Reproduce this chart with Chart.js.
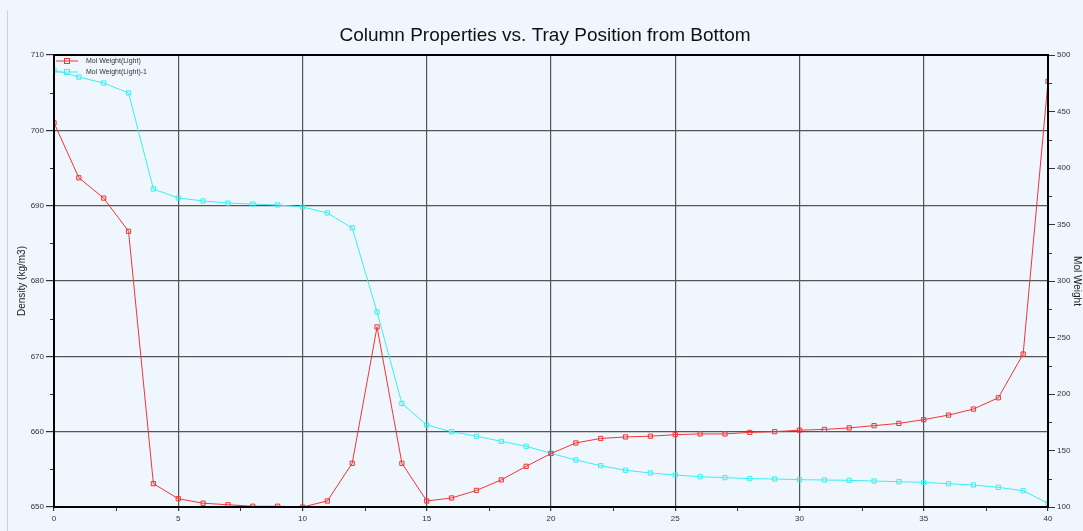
<!DOCTYPE html>
<html>
<head>
<meta charset="utf-8">
<script src="https://cdn.jsdelivr.net/npm/chart.js@4.4.0/dist/chart.umd.min.js"></script>
<style>
  html, body { margin: 0; padding: 0; background: #eff6fd; }
  #wrap { position: relative; width: 1083px; height: 531px; }
  #edge { position: absolute; left: 7px; top: 10px; bottom: 0; width: 1px; background: #c9d3dc; }
</style>
</head>
<body>
<div id="wrap">
  <div id="edge"></div>
  <canvas id="chart" width="1083" height="531"></canvas>
</div>
<script>
// Tray positions from bottom
const trays = [0, 1, 2, 3, 4, 5, 6, 7, 8, 9, 10, 11, 12, 13, 14, 15, 16, 17, 18, 19, 20,
  21, 22, 23, 24, 25, 26, 27, 28, 29, 30, 31, 32, 33, 34, 35, 36, 37, 38, 39, 40];

// Red series (left axis, density kg/m3)
const molWeightLight = [701.0, 693.7, 691.0, 686.6, 653.1, 651.1, 650.5, 650.3, 650.1, 650.1, 650.0,
  650.8, 655.8, 673.9, 655.8, 650.8, 651.2, 652.2, 653.6, 655.4, 657.1,
  658.5, 659.1, 659.3, 659.4, 659.6, 659.7, 659.7, 659.9, 660.0, 660.2,
  660.3, 660.5, 660.8, 661.1, 661.6, 662.2, 663.0, 664.5, 670.3, 706.5];

// Cyan series (right axis, mol weight)
const molWeightLight1 = [486.7, 480.5, 475.2, 466.4, 381.4, 373.5, 370.8, 369.0, 368.1, 367.3, 365.5,
  360.2, 347.0, 272.6, 191.7, 172.6, 166.6, 162.6, 158.1, 153.7, 147.5,
  141.6, 136.6, 132.5, 130.1, 128.3, 126.8, 126.0, 125.1, 124.8, 124.2,
  123.9, 123.6, 123.0, 122.4, 121.8, 120.6, 119.5, 117.4, 114.4, 103.3];

const seriesNames = ["Mol Weight(Light)", "Mol Weight(Light)-1"];
const seriesColors = ["#f23535", "#3ceef5"];
const chartTitle = "Column Properties vs. Tray Position from Bottom";

const fontFamily = "'Liberation Sans', Arial, sans-serif";

function toPoints(values) {
  return trays.map((t, i) => ({ x: t, y: values[i] }));
}

// Draw title, minor ticks, legend and plot frame on top of the chart
const decorations = {
  id: "decorations",
  afterDraw(chart) {
    const ctx = chart.ctx;
    const area = chart.chartArea;
    const { x, y, y1 } = chart.scales;
    ctx.save();

    ctx.fillStyle = "#111";
    ctx.font = "19px " + fontFamily;
    ctx.textAlign = "center";
    ctx.textBaseline = "middle";
    ctx.fillText(chartTitle, 545, 36);

    // minor ticks (short)
    ctx.strokeStyle = "#333";
    ctx.lineWidth = 1;
    ctx.beginPath();
    for (let v = 2.5; v < 40; v += 5) {
      const px = Math.round(x.getPixelForValue(v)) + 0.5;
      ctx.moveTo(px, area.bottom);
      ctx.lineTo(px, area.bottom + 4);
    }
    for (let v = 655; v < 710; v += 10) {
      const py = Math.round(y.getPixelForValue(v)) + 0.5;
      ctx.moveTo(area.left - 4, py);
      ctx.lineTo(area.left, py);
    }
    for (let v = 125; v < 500; v += 50) {
      const py = Math.round(y1.getPixelForValue(v)) + 0.5;
      ctx.moveTo(area.right, py);
      ctx.lineTo(area.right + 4, py);
    }
    ctx.stroke();

    // frame
    ctx.strokeStyle = "#000";
    ctx.lineWidth = 2;
    ctx.strokeRect(area.left, area.top, area.right - area.left, area.bottom - area.top);

    // legend in the upper left corner
    ctx.font = "7px " + fontFamily;
    ctx.textAlign = "left";
    seriesNames.forEach((name, i) => {
      const ly = area.top + 6 + i * 11;
      ctx.strokeStyle = seriesColors[i];
      ctx.lineWidth = 1;
      ctx.beginPath();
      ctx.moveTo(area.left + 2, ly);
      ctx.lineTo(area.left + 24, ly);
      ctx.stroke();
      ctx.strokeRect(area.left + 10.5, ly - 2.5, 5, 5);
      ctx.fillStyle = "#333";
      ctx.fillText(name, area.left + 32, ly);
    });
    ctx.restore();
  }
};

new Chart(document.getElementById("chart"), {
  type: "line",
  data: {
    datasets: [
      {
        label: seriesNames[0],
        data: toPoints(molWeightLight),
        yAxisID: "y",
        borderColor: seriesColors[0],
        backgroundColor: "rgba(242,53,53,0.08)",
        borderWidth: 1,
        pointStyle: "rect",
        pointRadius: 3,
        pointBorderWidth: 1,
        tension: 0
      },
      {
        label: seriesNames[1],
        data: toPoints(molWeightLight1),
        yAxisID: "y1",
        borderColor: seriesColors[1],
        backgroundColor: "rgba(60,238,245,0.08)",
        borderWidth: 1,
        pointStyle: "rect",
        pointRadius: 3,
        pointBorderWidth: 1,
        tension: 0
      }
    ]
  },
  options: {
    responsive: false,
    animation: false,
    layout: { padding: { top: 55, left: 0, right: 0, bottom: 0 } },
    plugins: {
      legend: { display: false },
      title: { display: false },
      tooltip: { enabled: false }
    },
    scales: {
      x: {
        type: "linear",
        min: 0,
        max: 40,
        afterFit(scale) { scale.height = 24; },
        ticks: {
          stepSize: 5,
          maxRotation: 0,
          autoSkip: false,
          padding: 3,
          color: "#333",
          font: { size: 8, family: fontFamily }
        },
        grid: {
          color: "#555",
          lineWidth: 1.2,
          tickColor: "#333",
          tickLength: 4
        },
        border: { display: true, color: "#000", width: 2 }
      },
      y: {
        position: "left",
        min: 650,
        max: 710,
        afterFit(scale) { scale.width = 54; },
        ticks: {
          stepSize: 10,
          autoSkip: false,
          padding: 2,
          color: "#333",
          font: { size: 8, family: fontFamily }
        },
        title: {
          display: true,
          text: "Density (kg/m3)",
          color: "#222",
          padding: { top: 16, bottom: 0 },
          font: { size: 10, family: fontFamily }
        },
        grid: {
          color: "#555",
          lineWidth: 1.2,
          tickColor: "#333",
          tickLength: 8
        },
        border: { display: true, color: "#000", width: 2 }
      },
      y1: {
        position: "right",
        min: 100,
        max: 500,
        afterFit(scale) { scale.width = 35; },
        ticks: {
          stepSize: 50,
          autoSkip: false,
          padding: 2,
          color: "#333",
          font: { size: 8, family: fontFamily }
        },
        title: {
          display: true,
          text: "Mol Weight",
          color: "#222",
          padding: 0,
          font: { size: 10, family: fontFamily }
        },
        grid: {
          drawOnChartArea: false,
          tickColor: "#333",
          tickLength: 7
        },
        border: { display: true, color: "#000", width: 2 }
      }
    }
  },
  plugins: [decorations]
});
</script>
</body>
</html>
